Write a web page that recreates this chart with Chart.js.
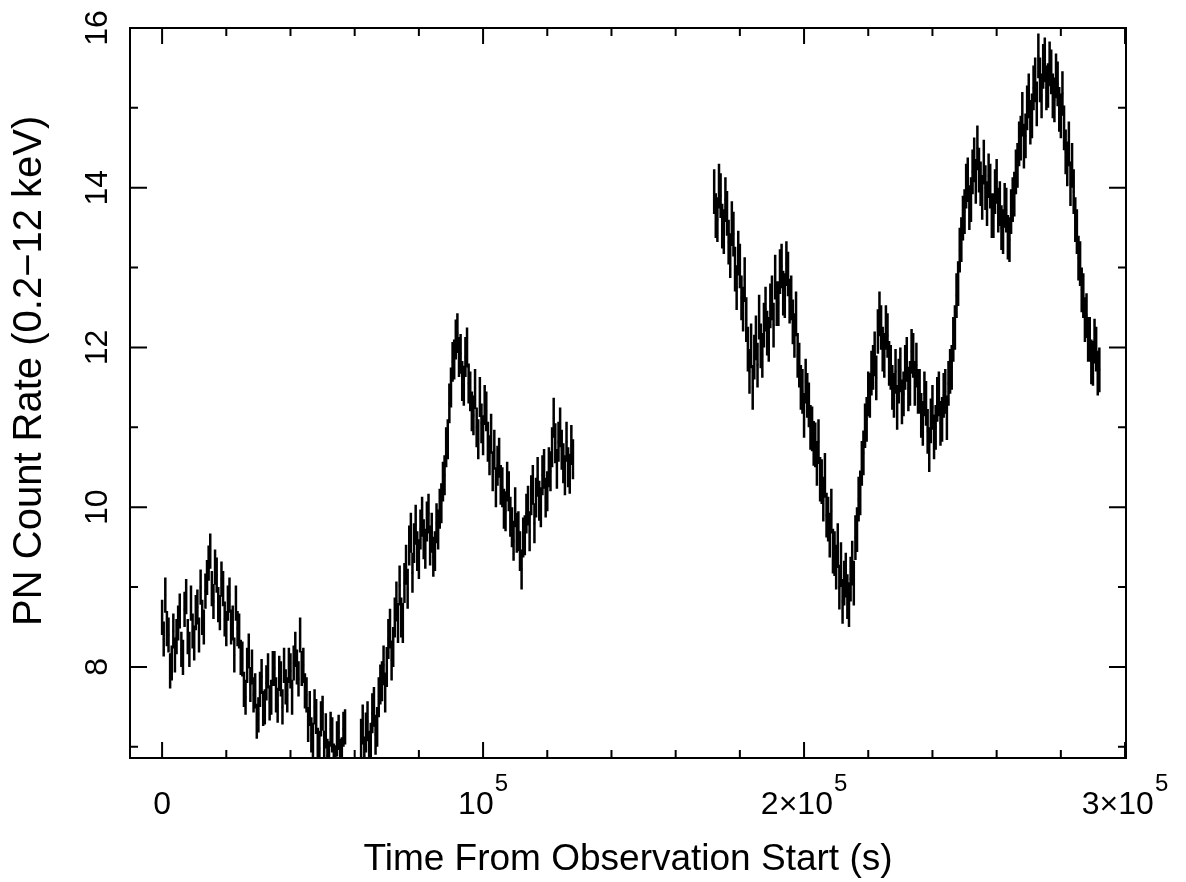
<!DOCTYPE html>
<html>
<head>
<meta charset="utf-8">
<script src="https://cdn.jsdelivr.net/npm/chart.js@4.4.1/dist/chart.umd.min.js"></script>
<style>
    html, body { margin: 0; padding: 0; background: #fff; }
    canvas { display: block; }
</style>
</head>
<body>
<canvas id="lightCurve" width="1186" height="882"></canvas>
<script>
// Light curve, 500 s bins, three continuous stretches of data
const binSize = 500;
const segmentStart = [0, 62000, 172000];
const segmentError = [0.22, 0.25, 0.28];

const rateSeg1 = [
    8.62, 8.35, 8.90, 8.48, 8.40, 7.95, 8.05, 8.45, 8.15, 8.38,
    8.55, 8.70, 8.22, 8.12, 8.72, 8.88, 8.38, 8.22, 8.80, 8.45,
    8.30, 8.68, 8.75, 8.40, 9.00, 8.62, 8.50, 8.95, 9.12, 9.30,
    9.45, 8.98, 8.82, 9.25, 9.15, 8.78, 8.68, 9.10, 8.98, 8.60,
    8.48, 8.80, 8.90, 8.50, 8.55, 8.15, 8.80, 8.48, 8.45, 8.12,
    8.10, 7.72, 7.62, 8.02, 8.20, 7.78, 8.00, 7.65, 7.70, 7.32,
    7.40, 7.72, 7.88, 7.48, 7.50, 7.80, 7.95, 7.55, 7.62, 7.98,
    7.98, 7.65, 7.52, 7.92, 7.85, 7.50, 8.02, 7.75, 7.65, 8.02,
    7.95, 7.62, 8.05, 8.22, 8.00, 7.85, 8.40, 7.98, 8.02, 7.70,
    7.65, 7.28, 7.48, 7.15, 7.08, 7.50, 7.38, 7.02, 6.98, 7.35,
    7.42, 6.98, 7.20, 6.88, 6.85, 7.22, 7.15, 6.82, 6.80, 7.10,
    7.18, 6.88, 6.90, 7.22, 7.25
];
const rateSeg2 = [
    7.10, 7.28, 6.88, 7.18, 7.32, 6.95, 7.05, 7.42, 7.50, 7.15,
    7.25, 7.62, 7.78, 7.82, 8.02, 7.68, 8.00, 8.35, 8.48, 8.08,
    8.25, 8.62, 8.82, 8.55, 9.02, 8.62, 8.55, 9.05, 9.28, 8.98,
    9.52, 9.68, 9.18, 9.55, 9.78, 9.45, 9.35, 9.72, 9.88, 9.60,
    9.48, 9.82, 9.92, 9.52, 9.68, 9.38, 9.45, 9.80, 9.72, 9.98,
    10.05, 10.32, 10.40, 10.75, 10.85, 11.30, 11.50, 11.82, 11.85, 12.10,
    12.18, 11.88, 11.92, 11.58, 11.52, 11.88, 12.00, 11.55, 11.45, 11.20,
    11.15, 11.48, 11.00, 10.85, 11.38, 11.05, 10.90, 11.28, 11.20, 10.82,
    10.65, 10.92, 10.45, 10.72, 10.25, 10.52, 10.62, 10.28, 10.25, 9.98,
    9.95, 10.32, 10.20, 9.88, 9.75, 9.58, 10.00, 9.68, 9.70, 9.45,
    9.22, 9.62, 9.65, 9.92, 10.02, 9.70, 10.15, 10.28, 9.80, 10.12,
    10.38, 10.08, 10.00, 10.40, 10.48, 10.12, 10.20, 10.50, 10.45, 10.75,
    11.12, 10.80, 10.48, 10.82, 11.00, 10.72, 10.55, 10.40, 10.82, 10.50,
    10.42, 10.78, 10.60
];
const rateSeg3 = [
    13.95, 13.65, 13.60, 14.02, 13.90, 13.52, 13.45, 13.85, 13.68, 13.32,
    13.15, 13.55, 13.42, 12.98, 12.75, 13.18, 13.02, 12.62, 12.48, 12.85,
    12.35, 11.98, 11.70, 12.02, 11.50, 11.88, 12.12, 11.78, 12.38, 12.02,
    11.90, 12.28, 12.48, 12.18, 12.10, 12.52, 12.62, 12.28, 12.88, 12.55,
    12.55, 12.95, 13.02, 12.68, 12.65, 13.05, 12.92, 12.58, 12.62, 12.32,
    12.15, 12.42, 11.90, 11.78, 11.50, 11.45, 11.15, 11.58, 11.40, 11.28,
    11.00, 10.98, 10.80, 10.78, 10.55, 10.82, 10.35, 10.32, 10.10, 10.40,
    9.90, 9.85, 9.65, 9.95, 9.45, 9.42, 9.25, 9.52, 9.00, 9.28,
    8.82, 9.05, 9.15, 8.88, 8.78, 9.10, 9.30, 9.05, 9.62, 9.72,
    10.10, 10.18, 10.55, 10.68, 11.02, 11.10, 11.42, 11.40, 11.68, 11.75,
    11.92, 11.62, 12.20, 12.42, 12.25, 11.98, 11.90, 12.25, 12.15, 11.80,
    11.75, 11.50, 11.40, 11.70, 11.25, 11.58, 11.72, 11.32, 11.42, 11.75,
    11.85, 11.48, 11.55, 11.95, 11.90, 11.55, 11.78, 11.45, 11.45, 11.15,
    11.05, 11.42, 11.30, 10.95, 10.72, 11.08, 11.25, 10.88, 11.00, 11.35,
    11.42, 11.05, 11.10, 11.40, 11.45, 11.12, 11.55, 11.70, 11.75, 12.10,
    12.25, 12.65, 12.80, 13.22, 13.35, 13.62, 13.70, 14.02, 14.10, 13.75,
    13.85, 14.20, 14.35, 14.08, 14.50, 14.22, 14.05, 13.88, 14.32, 14.00,
    13.80, 14.15, 14.02, 13.65, 13.65, 13.95, 14.08, 13.72, 13.80, 13.50,
    13.45, 13.78, 13.72, 13.38, 13.35, 13.70, 13.85, 13.92, 14.20, 14.28,
    14.55, 14.62, 14.92, 14.52, 14.65, 15.00, 15.15, 14.82, 14.90, 15.25,
    15.35, 15.05, 15.65, 15.35, 15.15, 15.52, 15.60, 15.25, 15.28, 15.55,
    15.45, 15.15, 15.10, 15.40, 15.30, 14.98, 14.90, 15.18, 14.75, 14.45,
    14.30, 14.55, 14.05, 14.28, 13.95, 13.60, 13.45, 13.12, 13.05, 12.72,
    12.65, 12.35, 12.40, 12.10, 12.10, 11.82, 11.80, 12.08, 11.98, 11.68,
    11.72
];
const segmentRates = [rateSeg1, rateSeg2, rateSeg3];

// Axis ticks
const xTickValues = [0, 100000, 200000, 300000];
const xTickBase = ['0', '10', '2\u00d710', '3\u00d710'];
const xTickExp = ['', '5', '5', '5'];
const yTickValues = [8, 10, 12, 14, 16];
const yTickLabels = ['8', '10', '12', '14', '16'];

const FONT = "'Liberation Sans', Arial, sans-serif";

// vertical error bars: (t, r-e) -> (t, r+e), then a gap
function errorBarPoints() {
    const pts = [];
    segmentRates.forEach((rates, s) => {
        rates.forEach((r, i) => {
            const t = segmentStart[s] + i * binSize;
            pts.push({x: t, y: r - segmentError[s]});
            pts.push({x: t, y: r + segmentError[s]});
            pts.push({x: t, y: null});
        });
    });
    return pts;
}

// horizontal bars over the width of each bin
function binWidthPoints() {
    const pts = [];
    segmentRates.forEach((rates, s) => {
        rates.forEach((r, i) => {
            const t = segmentStart[s] + i * binSize;
            pts.push({x: t - binSize / 2, y: r});
            pts.push({x: t + binSize / 2, y: r});
            pts.push({x: t, y: null});
        });
    });
    return pts;
}

// box round the plot, inward ticks on all four sides, x labels with exponents
const frameTicks = {
    id: 'frameTicks',
    afterDraw(chart) {
        const {ctx, chartArea: a, scales: {x, y}} = chart;
        ctx.save();
        ctx.strokeStyle = '#000';
        ctx.lineWidth = 2;
        ctx.strokeRect(a.left, a.top, a.right - a.left, a.bottom - a.top);
        ctx.beginPath();
        for (let v = 0; v <= 300000; v += 20000) {
            const px = x.getPixelForValue(v);
            const len = v % 100000 === 0 ? 16 : 8;
            ctx.moveTo(px, a.bottom);
            ctx.lineTo(px, a.bottom - len);
            ctx.moveTo(px, a.top);
            ctx.lineTo(px, a.top + len);
        }
        for (let v = 7; v <= 16; v += 1) {
            const py = y.getPixelForValue(v);
            const len = v % 2 === 0 ? 17 : 8;
            ctx.moveTo(a.left, py);
            ctx.lineTo(a.left + len, py);
            ctx.moveTo(a.right, py);
            ctx.lineTo(a.right - len, py);
        }
        ctx.stroke();

        ctx.fillStyle = '#000';
        ctx.textBaseline = 'alphabetic';
        ctx.textAlign = 'left';
        xTickValues.forEach((v, i) => {
            ctx.font = '32px ' + FONT;
            const wBase = ctx.measureText(xTickBase[i]).width;
            ctx.font = '24px ' + FONT;
            const wExp = xTickExp[i] ? ctx.measureText(xTickExp[i]).width + 1 : 0;
            const left = x.getPixelForValue(v) - (wBase + wExp) / 2;
            ctx.font = '32px ' + FONT;
            ctx.fillText(xTickBase[i], left, a.bottom + 56);
            if (xTickExp[i]) {
                ctx.font = '24px ' + FONT;
                ctx.fillText(xTickExp[i], left + wBase + 1, a.bottom + 33);
            }
        });
        ctx.restore();
    }
};

const ctx = document.getElementById('lightCurve').getContext('2d');
new Chart(ctx, {
    type: 'line',
    data: {
        datasets: [{
            data: errorBarPoints(),
            borderColor: '#000',
            borderWidth: 2.5,
            pointRadius: 0,
            spanGaps: false,
            tension: 0
        }, {
            data: binWidthPoints(),
            borderColor: '#000',
            borderWidth: 2.5,
            pointRadius: 0,
            spanGaps: false,
            tension: 0
        }]
    },
    options: {
        responsive: false,
        animation: false,
        devicePixelRatio: 1,
        layout: {
            padding: {left: 0, right: 60, top: 28, bottom: 0}
        },
        plugins: {
            legend: {display: false},
            tooltip: {enabled: false}
        },
        scales: {
            x: {
                type: 'linear',
                min: -10000,
                max: 300300,
                grid: {display: false, drawTicks: false},
                border: {display: false},
                afterBuildTicks: function(scale) {
                    scale.ticks = xTickValues.map(v => ({value: v}));
                },
                afterFit: function(scale) {
                    scale.height = 124;
                },
                ticks: {display: false},
                title: {
                    display: true,
                    text: 'Time From Observation Start (s)',
                    color: '#000',
                    font: {family: FONT, size: 37},
                    padding: {top: 0, bottom: 0}
                }
            },
            y: {
                type: 'linear',
                min: 6.86,
                max: 16,
                grid: {display: false, drawTicks: false},
                border: {display: false},
                afterBuildTicks: function(scale) {
                    scale.ticks = yTickValues.map(v => ({value: v}));
                },
                afterFit: function(scale) {
                    scale.width = 130;
                },
                ticks: {
                    minRotation: 90,
                    maxRotation: 90,
                    crossAlign: 'center',
                    padding: 14,
                    color: '#000',
                    font: {family: FONT, size: 32, lineHeight: 0.8},
                    callback: function(value) {
                        return yTickLabels[yTickValues.indexOf(value)];
                    }
                },
                title: {
                    display: true,
                    text: '\u00a0\u00a0\u00a0\u00a0PN Count Rate (0.2\u221212 keV)',
                    color: '#000',
                    font: {family: FONT, size: 40},
                    padding: {top: 6, bottom: 0}
                }
            }
        }
    },
    plugins: [frameTicks]
});
</script>
</body>
</html>
